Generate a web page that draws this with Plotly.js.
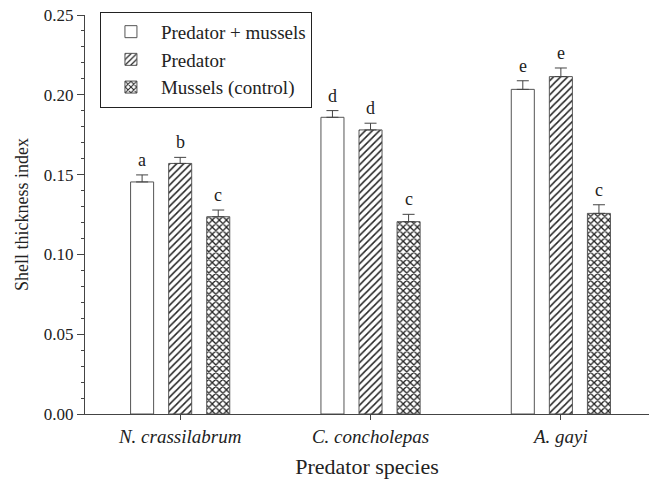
<!DOCTYPE html>
<html>
<head>
<meta charset="utf-8">
<script src="https://cdn.plot.ly/plotly-3.0.1.min.js"></script>
<style>html,body{margin:0;padding:0;background:#fff;}#chart{width:651px;height:483px;}</style>
</head>
<body>
<div id="chart"></div>
<script>
const categories = ["N. crassilabrum", "C. concholepas", "A. gayi"];
const seriesNames = ["Predator + mussels", "Predator", "Mussels (control)"];
const predMussels = [0.1454, 0.1859, 0.2034];
const predOnly = [0.1570, 0.1780, 0.2114];
const musselsCtrl = [0.1236, 0.1205, 0.1257];
const errPredMussels = [0.0044, 0.0042, 0.0054];
const errPredOnly = [0.0038, 0.0042, 0.0054];
const errMusselsCtrl = [0.0042, 0.0046, 0.0054];
const lettersPredMussels = ["a", "d", "e"];
const lettersPredOnly = ["b", "d", "e"];
const lettersMusselsCtrl = ["c", "c", "c"];
const yTickVals = [0.00, 0.05, 0.10, 0.15, 0.20, 0.25];
const yTickText = ["0.00", "0.05", "0.10", "0.15", "0.20", "0.25"];

const serif = "Liberation Serif";
const patterns = [
  {shape: "", bgcolor: "white"},
  {shape: "/", size: 5, solidity: 0.3, fgcolor: "#222", bgcolor: "white"},
  {shape: "x", size: 5, solidity: 0.45, fgcolor: "#222", bgcolor: "white"}
];
const values = [predMussels, predOnly, musselsCtrl];
const errs = [errPredMussels, errPredOnly, errMusselsCtrl];
const letters = [lettersPredMussels, lettersPredOnly, lettersMusselsCtrl];

const traces = values.map((v, k) => ({
  type: "bar",
  name: seriesNames[k],
  x: categories,
  y: v,
  marker: {color: "white", line: {color: "#555", width: 1}, pattern: patterns[k]},
  error_y: {type: "data", array: errs[k], arrayminus: errs[k].map(() => 0), symmetric: false,
            color: "#444", thickness: 1, width: 6, visible: true}
}));

const annotations = [];
values.forEach((v, k) => {
  v.forEach((val, i) => {
    annotations.push({
      x: i + (k - 1) * 0.2, y: val + errs[k][i], xref: "x", yref: "y",
      text: letters[k][i], showarrow: false, yanchor: "bottom", yshift: 3,
      font: {family: serif, size: 18, color: "#222"}
    });
  });
});

const layout = {
  width: 651, height: 483,
  margin: {l: 85, r: 2, t: 15, b: 69},
  paper_bgcolor: "white", plot_bgcolor: "white",
  barmode: "group", bargap: 0.4, bargroupgap: 0.395,
  font: {family: serif, color: "#222"},
  showlegend: true,
  legend: {x: 0.0265, y: 1.008, xanchor: "left", yanchor: "top",
           bordercolor: "#222", borderwidth: 1, bgcolor: "white", itemwidth: 50,
           font: {family: serif, size: 19, color: "#222"}, tracegroupgap: 0},
  xaxis: {
    type: "category", range: [-0.5, 2.463],
    showline: true, linecolor: "#444", linewidth: 1,
    ticks: "outside", ticklen: 5, tickcolor: "#444",
    showgrid: false, zeroline: false,
    tickfont: {family: serif, size: 19, color: "#222", style: "italic"},
    title: {text: "Predator species", font: {family: serif, size: 22, color: "#222"}, standoff: 12}
  },
  yaxis: {
    range: [0, 0.25], showline: true, linecolor: "#444", linewidth: 1,
    tickvals: yTickVals, ticktext: yTickText,
    ticks: "outside", ticklen: 7, tickcolor: "#444",
    minor: {dtick: 0.01, ticks: "outside", ticklen: 3, tickcolor: "#444"},
    showgrid: false, zeroline: false,
    tickfont: {family: serif, size: 17, color: "#222"},
    title: {text: "Shell thickness index", font: {family: serif, size: 18, color: "#222"}, standoff: 10}
  },
  annotations: annotations
};

Plotly.newPlot("chart", traces, layout, {displayModeBar: false, staticPlot: true});
</script>
</body>
</html>
